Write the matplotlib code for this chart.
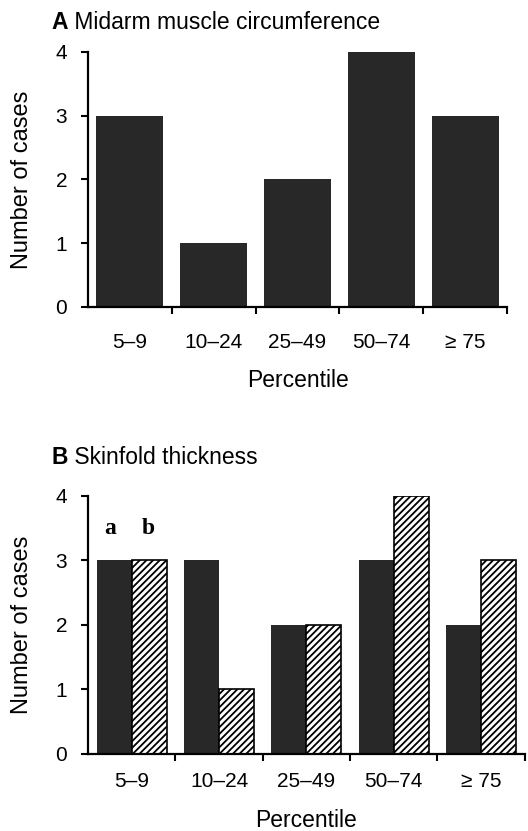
import numpy as np
import matplotlib
matplotlib.use("Agg")
import matplotlib.pyplot as plt

plt.rcParams['font.family'] = ['Liberation Sans', 'DejaVu Sans']
plt.rcParams['hatch.linewidth'] = 1.3

categories = ['5–9', '10–24', '25–49', '50–74', '≥ 75']
midarm = [3, 1, 2, 4, 3]
skinfold_a = [3, 3, 2, 3, 2]
skinfold_b = [3, 1, 2, 4, 3]

dark = '#282828'
fig = plt.figure(figsize=(5.28, 8.31), dpi=100)


def style_axes(ax, xpad, label_y, ylab_x):
    ax.set_xlim(0, 5)
    ax.set_ylim(0, 4)
    for s in ['top', 'right']:
        ax.spines[s].set_visible(False)
    ax.spines['left'].set_linewidth(1.6)
    ax.spines['bottom'].set_linewidth(1.6)
    ax.set_yticks([0, 1, 2, 3, 4])
    ax.tick_params(axis='y', labelsize=15, length=5, width=1.5, pad=10)
    ax.set_xticks([1, 2, 3, 4, 5])
    ax.set_xticklabels([])
    ax.tick_params(axis='x', length=5, width=1.5)
    ax.set_xticks(np.arange(5) + 0.5, minor=True)
    ax.set_xticklabels(categories, minor=True)
    ax.tick_params(axis='x', which='minor', length=0, labelsize=15, pad=xpad)
    ax.set_xlabel('Percentile', fontsize=16.5)
    ax.xaxis.set_label_coords(0.5, label_y)
    ax.set_ylabel('Number of cases', fontsize=17)
    ax.yaxis.set_label_coords(ylab_x, 0.5)


# A
ax1 = fig.add_axes([0.1667, 0.6306, 0.7936, 0.3069])
x = np.arange(5) + 0.5
ax1.bar(x, midarm, width=0.8, color=dark, edgecolor='none')
style_axes(ax1, 19, -0.245, -0.132)
tA = fig.text(0.098, 0.973, 'A', fontsize=16.5, fontweight='bold', va='center')
ax1.annotate(' Midarm muscle circumference', xy=(1, 0), xycoords=tA,
             fontsize=16.5, va='bottom', ha='left')

# B
ax2 = fig.add_axes([0.1667, 0.0927, 0.827, 0.3105])
ax2.bar(x - 0.2, skinfold_a, width=0.4, color=dark, edgecolor='none')
ax2.bar(x + 0.2, skinfold_b, width=0.4, color='white', edgecolor='black',
        hatch='/////', linewidth=1.2)
style_axes(ax2, 13, -0.215, -0.127)
ax2.text(0.25, 3.5, 'a', fontsize=17, fontweight='bold', family='Liberation Serif',
         ha='center', va='center')
ax2.text(0.69, 3.5, 'b', fontsize=17, fontweight='bold', family='Liberation Serif',
         ha='center', va='center')
tB = fig.text(0.098, 0.45, 'B', fontsize=16.5, fontweight='bold', va='center')
ax2.annotate(' Skinfold thickness', xy=(1, 0), xycoords=tB,
             fontsize=16.5, va='bottom', ha='left')

fig.savefig('out.png', dpi=100)
